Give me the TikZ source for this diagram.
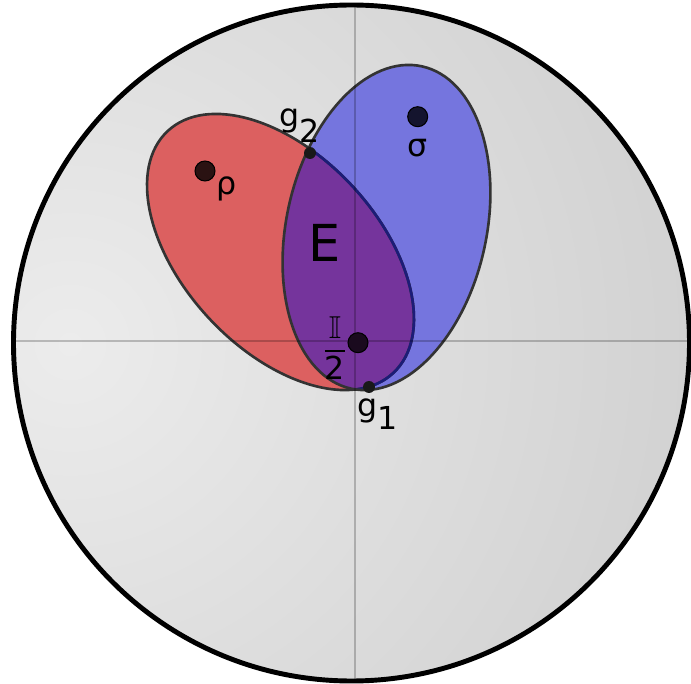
\documentclass[tikz,border=0pt]{standalone}
\usepackage{amssymb}
\usepackage{fontspec}
\setmainfont{DejaVu Sans}
\usetikzlibrary{positioning}

\definecolor{sphereinner}{RGB}{236,236,236}
\definecolor{sphereouter}{RGB}{205,205,205}
\definecolor{statered}{RGB}{220,96,96}
\definecolor{stateblue}{RGB}{117,117,222}
\definecolor{overlap}{RGB}{117,52,156}
\definecolor{edgenavy}{RGB}{28,28,120}

\begin{document}
\begin{tikzpicture}[
    x=0.02cm, y=0.02cm,
    point/.style={circle, draw=black, line width=0.6pt, inner sep=0pt, minimum size=0.4cm},
    gpoint/.style={circle, fill=black!90, inner sep=0pt, minimum size=0.24cm},
    lab/.style={inner sep=1pt, font=\fontsize{18}{20}\selectfont},
    rim/.style={draw=black!80, line width=1.5pt},
    axis/.style={draw=black, draw opacity=0.22, line width=1.6pt},
]
    \useasboundingbox (0,0) rectangle (691,684);

    % Sphere
    \coordinate (centre) at (351.5,341);
    \begin{scope}
        \clip (centre) circle [radius=338];
        \shade[inner color=sphereinner, outer color=sphereouter] (70,340) circle [radius=740];
    \end{scope}

    % States
    \fill[statered] (280.5,432) ellipse [x radius=165.4, y radius=97.5, rotate=-47];
    \fill[stateblue] (386.5,456.5) ellipse [x radius=165, y radius=100, rotate=77.6];
    \begin{scope}
        \clip (280.5,432) ellipse [x radius=165.4, y radius=97.5, rotate=-47];
        \fill[overlap] (386.5,456.5) ellipse [x radius=165, y radius=100, rotate=77.6];
    \end{scope}

    % Edges
    \draw[rim] (280.5,432) ellipse [x radius=165.4, y radius=97.5, rotate=-47];
    \begin{scope}
        \clip (386.5,456.5) ellipse [x radius=165, y radius=100, rotate=77.6];
        \draw[rim, draw=edgenavy] (280.5,432) ellipse [x radius=165.4, y radius=97.5, rotate=-47];
    \end{scope}
    \draw[rim] (386.5,456.5) ellipse [x radius=165, y radius=100, rotate=77.6];

    % Axes
    \coordinate (axN) at (355,684);
    \coordinate (axS) at (355,0);
    \coordinate (axW) at (0,343);
    \coordinate (axE) at (691,343);
    \begin{scope}
        \clip (centre) circle [radius=338];
        \draw[axis] (axN) -- (axS);
        \draw[axis] (axW) -- (axE);
    \end{scope}
    \draw[line width=2.8pt] (centre) circle [radius=338];

    % Points
    \node[point, fill={rgb,255:red,42;green,18;blue,18}] (rho) at (205,513) {};
    \node[point, fill={rgb,255:red,20;green,20;blue,46}] (sigma) at (417.7,567.3) {};
    \node[point, fill={rgb,255:red,26;green,10;blue,30}] (mixed) at (358,341.3) {};
    \node[gpoint] (g2) at (310,531) {};
    \node[gpoint] (g1) at (369,297) {};

    % Labels
    \node[lab, below right=-2pt and 1pt of rho] (rholab) {ρ};
    \node[lab, below=0.2cm of sigma] (sigmalab) {σ};
    \node[lab, above left=0.08cm and -0.32cm of g2] (g2lab) {g\raisebox{-0.5em}{2}};
    \node[lab, below=2pt of g1, xshift=5pt] (g1lab) {g\raisebox{-0.4em}{1}};
    \node[lab, left=-1pt of mixed, yshift=-3pt] (mixedlab) {$\displaystyle\frac{\mathbb{I}}{\mbox{2}}$};
    \node[font=\fontsize{29}{32}\selectfont] (ent) at (325,441) {E};
\end{tikzpicture}
\end{document}
